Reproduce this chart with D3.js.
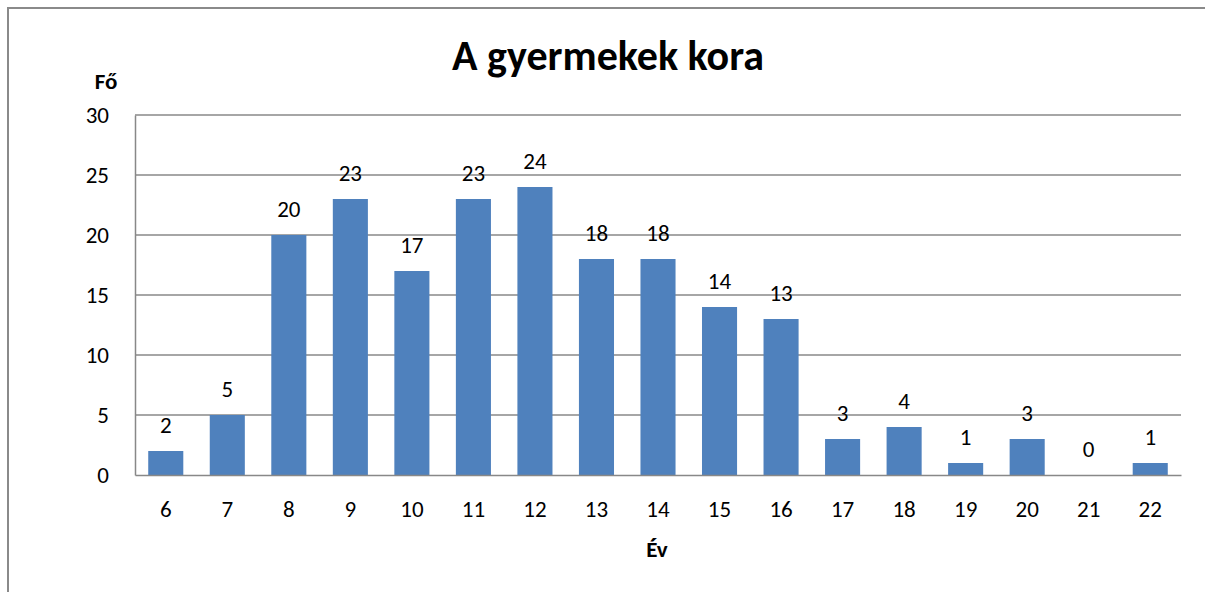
<!DOCTYPE html>
<html>
<head>
<meta charset="utf-8">
<script src="https://cdn.jsdelivr.net/npm/d3@7/dist/d3.min.js"></script>
<style>
  html, body { margin: 0; padding: 0; background: #fff; }
  svg { display: block; font-family: Carlito, Lato, "Open Sans", sans-serif; }
</style>
</head>
<body>
<svg id="chart" width="1205" height="592"></svg>
<script>
// --- data ---
const ages = ['6', '7', '8', '9', '10', '11', '12', '13', '14', '15', '16', '17', '18', '19', '20', '21', '22'];
const counts = [2, 5, 20, 23, 17, 23, 24, 18, 18, 14, 13, 3, 4, 1, 3, 0, 1];
const yTicks = [0, 5, 10, 15, 20, 25, 30];

const titleText = 'A gyermekek kora';
const yLabel = 'Fő';
const xLabel = 'Év';

const W = 1205, H = 592;
const plot = { left: 135, right: 1181, top: 115, bottom: 475 };
const gridColor = '#888';
const labelSize = 23;

const svg = d3.select('#chart');

// outer frame (chart area border)
svg.append('rect')
  .attr('x', 8).attr('y', 8)
  .attr('width', W + 10).attr('height', H + 10)
  .attr('fill', 'none')
  .attr('stroke', '#8a8a8a').attr('stroke-width', 2);

const x = d3.scaleBand().domain(ages).range([plot.left, plot.right]).paddingInner(0.43).paddingOuter(0.215);
const y = d3.scaleLinear().domain([0, 30]).range([plot.bottom, plot.top]);

// gridlines
svg.append('g')
  .selectAll('line')
  .data(yTicks.filter(t => t > 0))
  .join('line')
  .attr('x1', plot.left).attr('x2', plot.right)
  .attr('y1', d => y(d)).attr('y2', d => y(d))
  .attr('stroke', gridColor).attr('stroke-width', 1.5);

// y axis
const yAxis = svg.append('g')
  .attr('transform', `translate(${plot.left},0)`)
  .call(d3.axisLeft(y).tickValues(yTicks).tickSize(0).tickPadding(26));
yAxis.select('.domain').attr('stroke', gridColor).attr('stroke-width', 1.5);
yAxis.selectAll('text').attr('font-size', labelSize).attr('fill', '#000')
  .attr('font-family', 'Carlito, Lato, sans-serif');

// bars
svg.append('g')
  .selectAll('rect')
  .data(counts)
  .join('rect')
  .attr('x', (d, i) => x(ages[i]))
  .attr('y', d => y(d))
  .attr('width', x.bandwidth())
  .attr('height', d => y(0) - y(d))
  .attr('fill', '#4f81bd');

// x axis
const xAxis = svg.append('g')
  .attr('transform', `translate(0,${plot.bottom})`)
  .call(d3.axisBottom(x).tickSize(0).tickPadding(26));
xAxis.select('.domain').attr('stroke', gridColor).attr('stroke-width', 1.5);
xAxis.selectAll('text').attr('font-size', labelSize).attr('fill', '#000')
  .attr('font-family', 'Carlito, Lato, sans-serif');

// data labels
svg.append('g')
  .selectAll('text')
  .data(counts)
  .join('text')
  .attr('x', (d, i) => x(ages[i]) + x.bandwidth() / 2)
  .attr('y', d => y(d) - 18)
  .attr('text-anchor', 'middle')
  .attr('font-size', labelSize)
  .text(d => d);

// title
svg.append('text')
  .attr('x', 608).attr('y', 70)
  .attr('text-anchor', 'middle')
  .attr('font-size', 42).attr('font-weight', 'bold')
  .text(titleText);

// axis titles
svg.append('text')
  .attr('x', 106).attr('y', 89)
  .attr('text-anchor', 'middle')
  .attr('font-size', 23).attr('font-weight', 'bold')
  .text(yLabel);

svg.append('text')
  .attr('x', 657).attr('y', 557)
  .attr('text-anchor', 'middle')
  .attr('font-size', 23).attr('font-weight', 'bold')
  .text(xLabel);
</script>
</body>
</html>
